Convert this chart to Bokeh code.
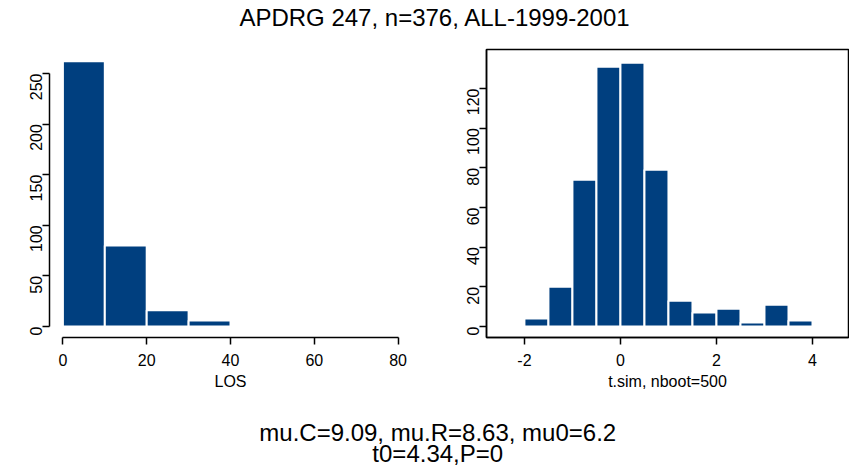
import math
from bokeh.plotting import figure
from bokeh.layouts import column, row
from bokeh.models import FixedTicker, Range1d
from bokeh.core.properties import value
from bokeh.embed import file_html
from bokeh.resources import INLINE

# ---- data ----
title_text = "APDRG 247, n=376, ALL-1999-2001"
footer_line1 = "mu.C=9.09, mu.R=8.63, mu0=6.2"
footer_line2 = "t0=4.34,P=0"

los_edges = [0, 10, 20, 30, 40]
los_counts = [262, 80, 16, 6]
los_xticks = [0, 20, 40, 60, 80]
los_yticks = [0, 50, 100, 150, 200, 250]
los_label = "LOS"

tsim_edges = [-2.0, -1.5, -1.0, -0.5, 0.0, 0.5, 1.0, 1.5, 2.0, 2.5, 3.0, 3.5, 4.0]
tsim_counts = [4, 20, 74, 131, 133, 79, 13, 7, 9, 2, 11, 3]
tsim_xticks = [-2, 0, 2, 4]
tsim_yticks = [0, 20, 40, 60, 80, 100, 120]
tsim_label = "t.sim, nboot=500"

BAR = "#003f7f"
FONT = "Liberation Sans"


def style_axes(p, xticks, yticks, xlabel):
    p.xgrid.visible = False
    p.ygrid.visible = False
    p.xaxis.ticker = FixedTicker(ticks=xticks)
    p.yaxis.ticker = FixedTicker(ticks=yticks)
    p.xaxis.major_label_overrides = {t: str(t) for t in xticks}
    p.yaxis.major_label_orientation = math.pi / 2
    p.axis.minor_tick_line_color = None
    p.axis.major_tick_out = 7
    p.axis.major_tick_in = 0
    p.axis.axis_line_width = 1.5
    p.axis.major_tick_line_width = 1.5
    p.axis.axis_line_color = "black"
    p.axis.major_tick_line_color = "black"
    p.axis.major_label_text_font = FONT
    p.axis.major_label_text_font_size = "16px"
    p.axis.major_label_text_color = "black"
    p.xaxis.major_label_standoff = 9
    p.yaxis.major_label_standoff = 6
    p.xaxis.axis_label = xlabel
    p.xaxis.axis_label_text_font = FONT
    p.xaxis.axis_label_text_font_size = "16px"
    p.xaxis.axis_label_text_font_style = "normal"
    p.xaxis.axis_label_text_color = "black"
    p.xaxis.axis_label_standoff = 4


# ---- left panel ----
p1 = figure(width=438, height=349, output_backend="svg", toolbar_location=None,
            x_range=Range1d(-3.2, 83.2), y_range=Range1d(-10.9, 273.7),
            min_border_left=49, min_border_right=27, min_border_top=1,
            min_border_bottom=60)
p1.quad(left=los_edges[:-1], right=los_edges[1:], top=los_counts, bottom=0,
        fill_color=BAR, line_color="white", line_width=2)
style_axes(p1, los_xticks, los_yticks, los_label)
p1.outline_line_color = None
p1.xaxis.bounds = (min(los_xticks), max(los_xticks))
p1.yaxis.bounds = (min(los_yticks), max(los_yticks))

# ---- right panel ----
p2 = figure(width=411, height=349, output_backend="svg", toolbar_location=None,
            x_range=Range1d(-2.79, 4.75), y_range=Range1d(-5.55, 139.7),
            min_border_left=48, min_border_right=1, min_border_top=1,
            min_border_bottom=60)
p2.quad(left=tsim_edges[:-1], right=tsim_edges[1:], top=tsim_counts, bottom=0,
        fill_color=BAR, line_color="white", line_width=2)
style_axes(p2, tsim_xticks, tsim_yticks, tsim_label)
p2.outline_line_color = "black"
p2.outline_line_width = 1.5
p2.outline_line_alpha = 1.0


def text_fig(h, items):
    f = figure(width=849, height=h, output_backend="svg", toolbar_location=None,
               x_range=Range1d(0, 1), y_range=Range1d(0, 1), min_border=0)
    f.axis.visible = False
    f.xgrid.visible = False
    f.ygrid.visible = False
    f.outline_line_color = None
    for (x, y, t, size) in items:
        f.text(x=[x], y=[y], text=[t], text_align="center", text_baseline="middle",
               text_font=value(FONT), text_font_size=size, text_color="black")
    return f


top = text_fig(48, [(0.512, 0.646, title_text, "24px")])
bottom = text_fig(72, [(0.515, 0.514, footer_line1, "24px"),
                       (0.515, 0.222, footer_line2, "24px")])

layout = column(top, row(p1, p2), bottom)

with open("out.html", "w") as fh:
    fh.write(file_html(layout, INLINE))
